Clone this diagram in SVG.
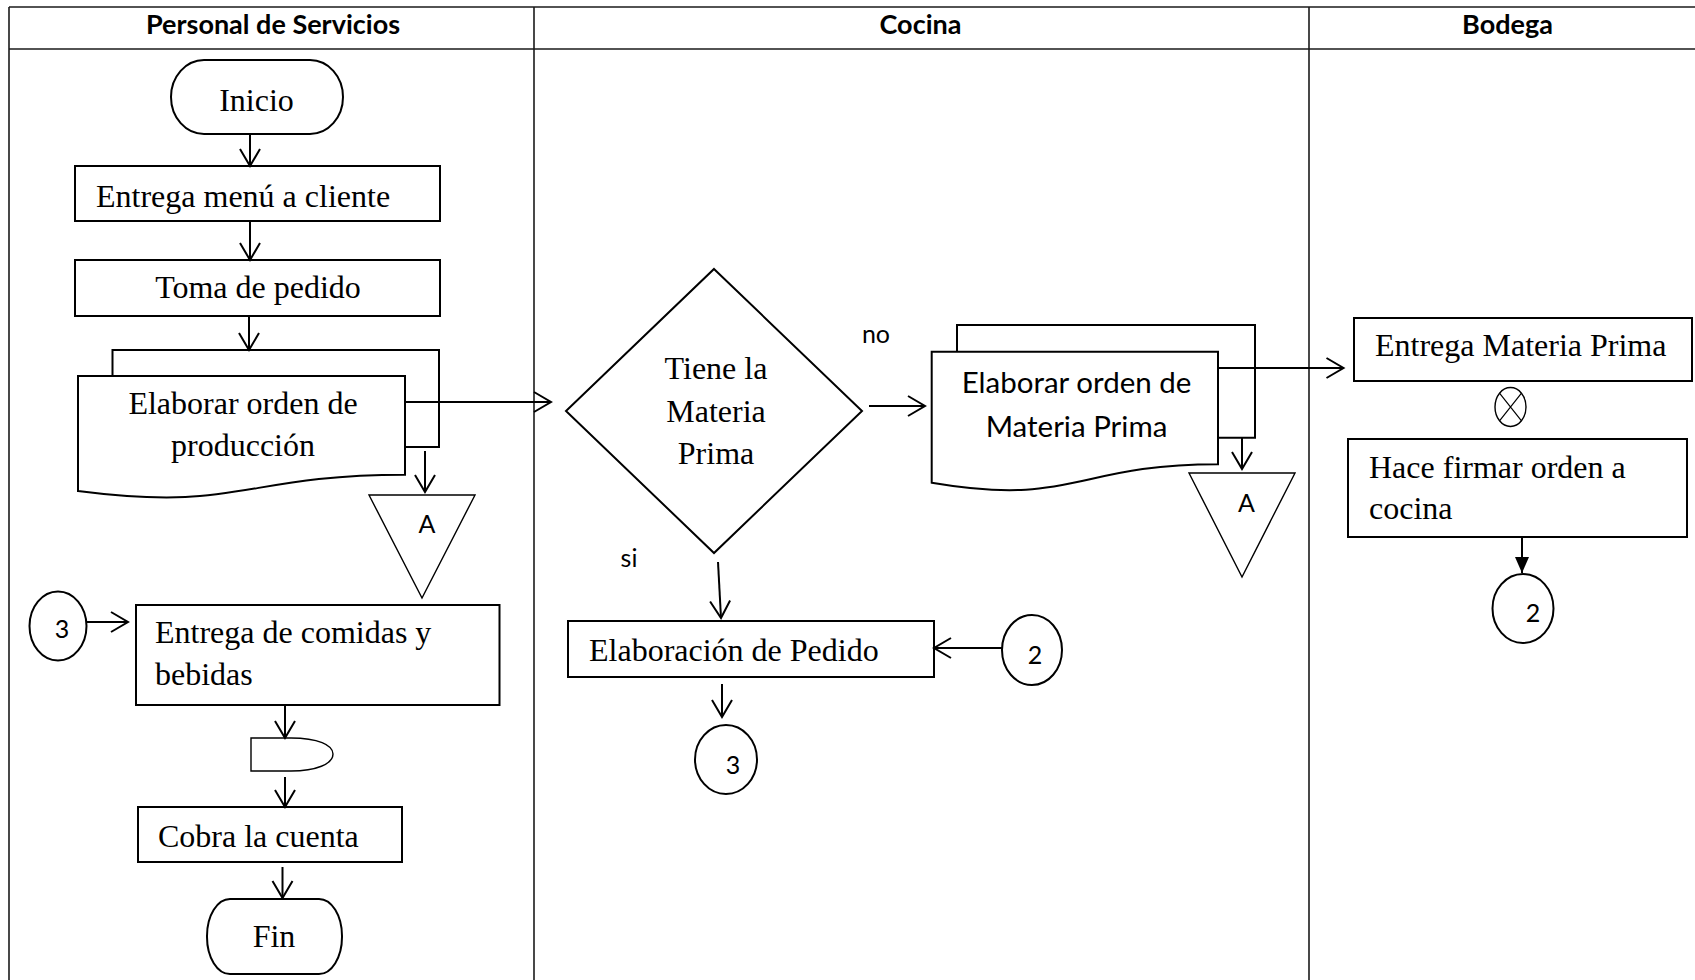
<svg xmlns="http://www.w3.org/2000/svg" width="1695" height="980" viewBox="0 0 1695 980">
  <style>
    .grid { stroke: #1a1a1a; stroke-width: 1.6; fill: none; }
    .shape { fill: #ffffff; stroke: #000000; stroke-width: 2; }
    .thin { fill: #ffffff; stroke: #000000; stroke-width: 1.4; }
    .edge { fill: none; stroke: #000000; stroke-width: 2; }
    .serif { font-family: "Liberation Serif", "Times New Roman", serif; font-size: 32px; fill: #000; }
    .sans { font-family: Lato, "Open Sans", sans-serif; font-size: 29.5px; fill: #000; }
    .label { font-family: Lato, "Open Sans", sans-serif; font-size: 25px; fill: #000; }
    .head { font-family: Lato, "Open Sans", sans-serif; font-size: 27px; font-weight: bold; fill: #000; text-anchor: middle; }
    .mid { text-anchor: middle; }
  </style>
  <defs>
    <marker id="open" markerUnits="userSpaceOnUse" viewBox="-20 -12 22 24" refX="0" refY="0" markerWidth="22" markerHeight="24" orient="auto">
      <path d="M-17,-10 L0,0 L-17,10" fill="none" stroke="#000" stroke-width="2"/>
    </marker>
    <marker id="solid" markerUnits="userSpaceOnUse" viewBox="-18 -9 19 18" refX="0" refY="0" markerWidth="19" markerHeight="18" orient="auto">
      <path d="M-16,-7 L0,0 L-16,7 Z" fill="#000"/>
    </marker>
  </defs>

  <rect width="1695" height="980" fill="#ffffff"/>

  <!-- swimlane table -->
  <g id="lanes">
    <line class="grid" x1="9" y1="7" x2="1695" y2="7"/>
    <line class="grid" x1="9" y1="49" x2="1695" y2="49"/>
    <line class="grid" x1="9" y1="7" x2="9" y2="980"/>
    <line class="grid" x1="534" y1="7" x2="534" y2="980"/>
    <line class="grid" x1="1309" y1="7" x2="1309" y2="980"/>
    <text class="head" x="273" y="34">Personal de Servicios</text>
    <text class="head" x="920.5" y="34">Cocina</text>
    <text class="head" x="1507.5" y="34">Bodega</text>
  </g>

  <!-- Personal de Servicios -->
  <g id="inicio">
    <rect class="shape" x="171" y="60" width="172" height="74" rx="33" ry="37"/>
    <text class="serif mid" x="256.5" y="111">Inicio</text>
  </g>
  <g id="entrega-menu">
    <rect class="shape" x="75" y="166" width="365" height="55"/>
    <text class="serif" x="96" y="207">Entrega menú a cliente</text>
  </g>
  <g id="toma-pedido">
    <rect class="shape" x="75" y="260" width="365" height="56"/>
    <text class="serif mid" x="258" y="298">Toma de pedido</text>
  </g>
  <g id="orden-produccion">
    <path class="shape" d="M112.5,376 V350 H439 V447 H405"/>
    <path class="shape" d="M78,376 H405 V474.7 C241.5,474.7 241.5,512.2 78,491 Z"/>
    <text class="serif mid" x="243" y="414">Elaborar orden de</text>
    <text class="serif mid" x="243" y="456">producción</text>
  </g>
  <g id="archivo-a1">
    <polygon class="thin" points="369,495 475,495 422,598"/>
    <text class="label mid" x="427" y="533">A</text>
  </g>
  <g id="conector-3-entrada">
    <ellipse class="shape" cx="58" cy="626" rx="28.5" ry="34.5"/>
    <text class="label mid" x="62" y="638">3</text>
  </g>
  <g id="entrega-comidas">
    <rect class="shape" x="136" y="605" width="363.5" height="100"/>
    <text class="serif" x="155" y="643">Entrega de comidas y</text>
    <text class="serif" x="155" y="685">bebidas</text>
  </g>
  <g id="espera">
    <path class="thin" d="M251,738 H291 C318,738 333,745 333,754 C333,764 316,771 291,771 H251 Z"/>
  </g>
  <g id="cobra-cuenta">
    <rect class="shape" x="138" y="807" width="264" height="55"/>
    <text class="serif" x="158" y="847">Cobra la cuenta</text>
  </g>
  <g id="fin">
    <rect class="shape" x="207" y="899" width="135" height="75" rx="23" ry="37"/>
    <text class="serif mid" x="274" y="947">Fin</text>
  </g>

  <!-- Cocina -->
  <g id="decision">
    <polygon class="shape" points="714,269 862,411 714,553 566,411"/>
    <text class="serif mid" x="716" y="379">Tiene la</text>
    <text class="serif mid" x="716" y="422">Materia</text>
    <text class="serif mid" x="716" y="464">Prima</text>
  </g>
  <g id="orden-materia">
    <path class="shape" d="M957,351.7 V325 H1255 V437.7 H1218"/>
    <path class="shape" d="M931.7,351.7 H1218 V464.2 C1074.9,464.2 1074.9,507.1 931.7,482.7 Z"/>
    <text class="sans mid" x="1076.5" y="393">Elaborar orden de</text>
    <text class="sans mid" x="1076.5" y="437">Materia Prima</text>
  </g>
  <g id="archivo-a2">
    <polygon class="thin" points="1189,473 1295,473 1242,577"/>
    <text class="label mid" x="1246.5" y="511.5">A</text>
  </g>
  <g id="elaboracion-pedido">
    <rect class="shape" x="568" y="621" width="366" height="56"/>
    <text class="serif" x="589" y="661">Elaboración de Pedido</text>
  </g>
  <g id="conector-2-entrada">
    <ellipse class="shape" cx="1032" cy="650" rx="30" ry="35"/>
    <text class="label mid" x="1035" y="664">2</text>
  </g>
  <g id="conector-3-salida">
    <ellipse class="shape" cx="726" cy="759.5" rx="31" ry="34.5"/>
    <text class="label mid" x="733" y="774">3</text>
  </g>

  <!-- Bodega -->
  <g id="entrega-materia">
    <rect class="shape" x="1354" y="318" width="338" height="63"/>
    <text class="serif" x="1375" y="356">Entrega Materia Prima</text>
  </g>
  <g id="union">
    <ellipse class="thin" cx="1510.5" cy="407" rx="15.5" ry="19.5"/>
    <path d="M1499.5,393.2 L1521.5,420.8 M1521.5,393.2 L1499.5,420.8" fill="none" stroke="#000" stroke-width="1.2"/>
  </g>
  <g id="firma-orden">
    <rect class="shape" x="1348" y="439" width="339" height="98"/>
    <text class="serif" x="1369" y="478">Hace firmar orden a</text>
    <text class="serif" x="1369" y="519">cocina</text>
  </g>
  <g id="conector-2-salida">
    <ellipse class="shape" cx="1523" cy="608.5" rx="30.5" ry="34.5"/>
    <text class="label mid" x="1533" y="621.5">2</text>
  </g>

  <!-- connectors -->
  <g id="connectors">
    <line class="edge" x1="250" y1="134" x2="250" y2="166" marker-end="url(#open)"/>
    <line class="edge" x1="250" y1="221" x2="250" y2="260" marker-end="url(#open)"/>
    <line class="edge" x1="249" y1="316" x2="249" y2="350" marker-end="url(#open)"/>
    <line class="edge" x1="405" y1="402" x2="551" y2="402" marker-end="url(#open)"/>
    <line class="edge" x1="425" y1="451" x2="425" y2="492" marker-end="url(#open)"/>
    <line class="edge" x1="87" y1="622" x2="128" y2="622" marker-end="url(#open)"/>
    <line class="edge" x1="285" y1="706" x2="285" y2="738" marker-end="url(#open)"/>
    <line class="edge" x1="285" y1="777" x2="285" y2="807" marker-end="url(#open)"/>
    <line class="edge" x1="282.5" y1="867" x2="282.5" y2="898" marker-end="url(#open)"/>
    <line class="edge" x1="869" y1="406" x2="925" y2="406" marker-end="url(#open)"/>
    <text class="label mid" x="876" y="343">no</text>
    <line class="edge" x1="718" y1="562" x2="721" y2="618" marker-end="url(#open)"/>
    <text class="label mid" x="629" y="567">si</text>
    <line class="edge" x1="1002" y1="648" x2="934" y2="648" marker-end="url(#open)"/>
    <line class="edge" x1="722" y1="684" x2="722" y2="717" marker-end="url(#open)"/>
    <line class="edge" x1="1218" y1="368" x2="1343.5" y2="368" marker-end="url(#open)"/>
    <line class="edge" x1="1242" y1="438" x2="1242" y2="469" marker-end="url(#open)"/>
    <line class="edge" x1="1522" y1="537" x2="1522" y2="573" marker-end="url(#solid)"/>
  </g>
</svg>
